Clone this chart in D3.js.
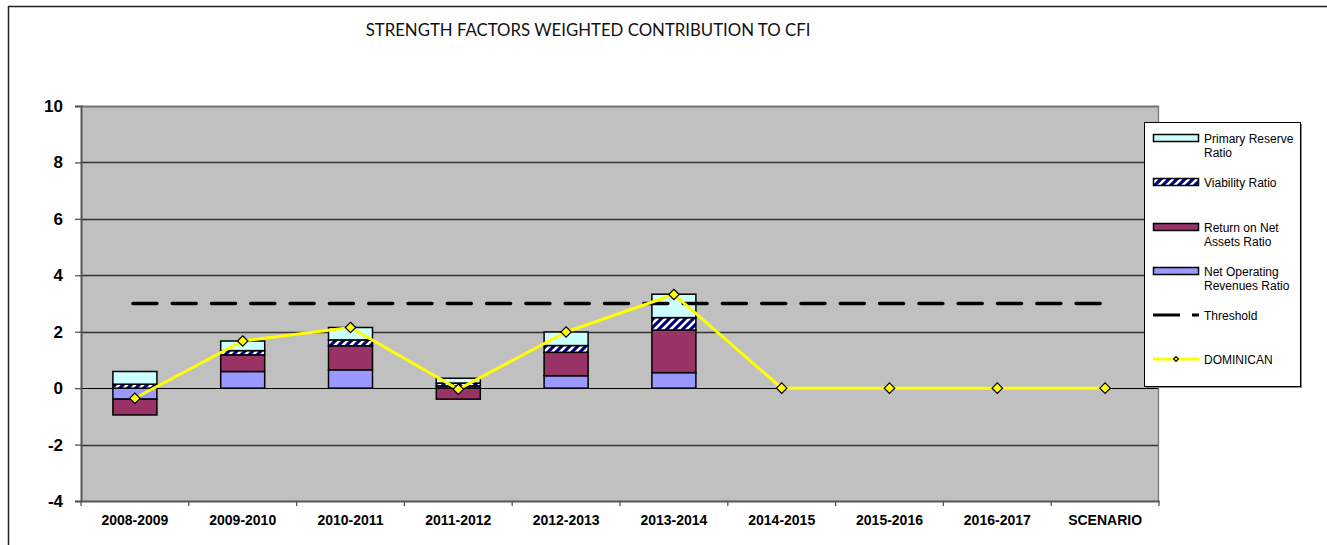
<!DOCTYPE html>
<html>
<head>
<meta charset="utf-8">
<script src="https://cdn.jsdelivr.net/npm/d3@7/dist/d3.min.js"></script>
<style>
  html, body { margin: 0; padding: 0; background: #fff; }
  svg { display: block; }
</style>
</head>
<body>
<svg id="chart" width="1327" height="545"></svg>
<script>
// Periods on the category axis
const categories = ["2008-2009", "2009-2010", "2010-2011", "2011-2012", "2012-2013",
                    "2013-2014", "2014-2015", "2015-2016", "2016-2017", "SCENARIO"];

// Weighted contributions of each strength factor (stacked)
const netOperating  = [-0.39, 0.59, 0.65, 0.08, 0.44, 0.55, 0, 0, 0, 0];
const returnOnNet   = [-0.56, 0.59, 0.85, -0.39, 0.83, 1.51, 0, 0, 0, 0];
const viability     = [0.14, 0.15, 0.21, 0.10, 0.24, 0.44, 0, 0, 0, 0];
const primaryRes    = [0.45, 0.34, 0.44, 0.17, 0.48, 0.83, 0, 0, 0, 0];

// Composite index line and threshold
const dominican     = [-0.36, 1.67, 2.15, -0.04, 1.99, 3.32, 0, 0, 0, 0];
const threshold     = 3;

const yTicks = [-4, -2, 0, 2, 4, 6, 8, 10];

const svg = d3.select("#chart");
const W = 1327, H = 545;
const plot = { left: 81, right: 1159, top: 106, bottom: 501 };

// Hatch pattern for the viability series
const defs = svg.append("defs");
const pat = defs.append("pattern")
  .attr("id", "hatch").attr("patternUnits", "userSpaceOnUse")
  .attr("width", 8).attr("height", 8);
pat.append("rect").attr("width", 8).attr("height", 8).attr("fill", "#000080");
pat.append("path").attr("d", "M0,8 L8,0").attr("stroke", "#fff").attr("stroke-width", 2.6);
pat.append("path").attr("d", "M-2,2 L2,-2 M6,10 L10,6").attr("stroke", "#fff").attr("stroke-width", 2.6);

// Outer frame
svg.append("line").attr("x1", 8).attr("y1", 6.5).attr("x2", W).attr("y2", 6.5)
  .attr("stroke", "#222").attr("stroke-width", 1.5);
svg.append("line").attr("x1", 8.5).attr("y1", 6).attr("x2", 8.5).attr("y2", H)
  .attr("stroke", "#222").attr("stroke-width", 1.5);

// Title
svg.append("text").attr("x", 588).attr("y", 36).attr("text-anchor", "middle")
  .attr("font-family", "Lato, 'Open Sans', sans-serif").attr("font-size", 16.8)
  .attr("fill", "#111").text("STRENGTH FACTORS WEIGHTED CONTRIBUTION TO CFI");

const x = d3.scaleBand().domain(categories).range([plot.left, plot.right]).padding(0);
const y = d3.scaleLinear().domain([-4, 10]).range([plot.bottom, plot.top]);
const cx = c => x(c) + x.bandwidth() / 2;

// Plot background
svg.append("rect").attr("x", plot.left).attr("y", plot.top)
  .attr("width", plot.right - plot.left).attr("height", plot.bottom - plot.top)
  .attr("fill", "#c0c0c0");

// Gridlines
svg.append("g").selectAll("line").data(yTicks.filter(d => d !== -4)).join("line")
  .attr("x1", plot.left).attr("x2", plot.right)
  .attr("y1", d => Math.round(y(d)) + 0.5).attr("y2", d => Math.round(y(d)) + 0.5)
  .attr("stroke", d => d === 0 ? "#000" : "#333").attr("stroke-width", d => d === 0 ? 1 : 1.3);

// Plot edge (top and right)
svg.append("path")
  .attr("d", `M${plot.left},${plot.top + 0.5} H${plot.right - 0.5} V${plot.bottom}`)
  .attr("fill", "none").attr("stroke", "#777").attr("stroke-width", 1.3);

// Stacked bars: positives stack upward, negatives downward
const seriesDefs = [
  { name: "Net Operating Revenues Ratio", values: netOperating, fill: "#9999ff" },
  { name: "Return on Net Assets Ratio",   values: returnOnNet,  fill: "#993366" },
  { name: "Viability Ratio",              values: viability,    fill: "url(#hatch)" },
  { name: "Primary Reserve Ratio",        values: primaryRes,   fill: "#ccffff" }
];
const barW = 44;
const segments = [];
categories.forEach((c, i) => {
  let pos = 0, neg = 0;
  seriesDefs.forEach(s => {
    const v = s.values[i];
    if (v === 0) return;
    let y0, y1;
    if (v > 0) { y0 = pos; y1 = pos + v; pos = y1; }
    else { y0 = neg; y1 = neg + v; neg = y1; }
    segments.push({ c, y0, y1, fill: s.fill });
  });
});
svg.append("g").selectAll("rect").data(segments).join("rect")
  .attr("x", d => cx(d.c) - barW / 2)
  .attr("width", barW)
  .attr("y", d => y(Math.max(d.y0, d.y1)))
  .attr("height", d => Math.abs(y(d.y0) - y(d.y1)))
  .attr("fill", d => d.fill).attr("stroke", "#000").attr("stroke-width", 1.5);

// Threshold
svg.append("line")
  .attr("x1", cx(categories[0]) - 2)
  .attr("x2", cx(categories[categories.length - 1]))
  .attr("y1", y(threshold)).attr("y2", y(threshold))
  .attr("stroke", "#000").attr("stroke-width", 3.5)
  .attr("stroke-dasharray", "24,15.3").attr("stroke-linecap", "round");

// Composite index line with diamond markers
const line = d3.line().x((d, i) => cx(categories[i])).y(d => y(d));
svg.append("path").datum(dominican).attr("d", line)
  .attr("fill", "none").attr("stroke", "#ffff00").attr("stroke-width", 3);
const diamond = d3.symbol().type(d3.symbolDiamond2).size(70);
svg.append("g").selectAll("path").data(dominican).join("path")
  .attr("transform", (d, i) => `translate(${cx(categories[i])},${y(d)})`)
  .attr("d", diamond).attr("fill", "#ffff00").attr("stroke", "#000").attr("stroke-width", 1.2);

// Y axis
const yAxis = svg.append("g").attr("transform", `translate(${plot.left},0)`)
  .call(d3.axisLeft(y).tickValues(yTicks).tickSize(6).tickPadding(12).tickFormat(d => String(d)));
yAxis.select(".domain").attr("stroke", "#555").attr("stroke-width", 2);
yAxis.selectAll(".tick line").attr("stroke", "#555").attr("stroke-width", 1.3);
yAxis.selectAll("text").attr("font-family", "'Liberation Sans', Arial, sans-serif")
  .attr("font-weight", "bold").attr("font-size", 17).attr("fill", "#000");

// X axis
const xAxis = svg.append("g").attr("transform", `translate(0,${plot.bottom})`)
  .call(d3.axisBottom(x).tickSize(0).tickPadding(14));
xAxis.select(".domain").attr("stroke", "#555").attr("stroke-width", 2);
xAxis.selectAll("text").attr("font-family", "'Liberation Sans', Arial, sans-serif")
  .attr("font-weight", "bold").attr("font-size", 14).attr("fill", "#000");
svg.append("g").selectAll("line").data(categories.concat(["end"])).join("line")
  .attr("x1", (d, i) => plot.left + i * x.bandwidth())
  .attr("x2", (d, i) => plot.left + i * x.bandwidth())
  .attr("y1", plot.bottom).attr("y2", plot.bottom + 5)
  .attr("stroke", "#555").attr("stroke-width", 1.3);

// Legend
const lg = svg.append("g");
lg.append("rect").attr("x", 1146).attr("y", 124).attr("width", 156).attr("height", 264).attr("fill", "#888");
lg.append("rect").attr("x", 1144.5).attr("y", 122.5).attr("width", 156).attr("height", 264)
  .attr("fill", "#fff").attr("stroke", "#000").attr("stroke-width", 1);

const legendItems = [
  { label: ["Primary Reserve", "Ratio"], y: 138, type: "box", fill: "#ccffff" },
  { label: ["Viability Ratio"], y: 182, type: "box", fill: "url(#hatch)" },
  { label: ["Return on Net", "Assets Ratio"], y: 227, type: "box", fill: "#993366" },
  { label: ["Net Operating", "Revenues Ratio"], y: 271, type: "box", fill: "#9999ff" },
  { label: ["Threshold"], y: 315, type: "dash" },
  { label: ["DOMINICAN"], y: 359, type: "line" }
];
legendItems.forEach(it => {
  if (it.type === "box") {
    lg.append("rect").attr("x", 1153.5).attr("y", it.y - 3.5).attr("width", 45).attr("height", 7)
      .attr("fill", it.fill).attr("stroke", "#000").attr("stroke-width", 1.5);
  } else if (it.type === "dash") {
    lg.append("line").attr("x1", 1153).attr("x2", 1180).attr("y1", it.y).attr("y2", it.y)
      .attr("stroke", "#000").attr("stroke-width", 3);
    lg.append("line").attr("x1", 1192).attr("x2", 1199).attr("y1", it.y).attr("y2", it.y)
      .attr("stroke", "#000").attr("stroke-width", 3);
  } else {
    lg.append("line").attr("x1", 1153).attr("x2", 1199).attr("y1", it.y).attr("y2", it.y)
      .attr("stroke", "#ffff00").attr("stroke-width", 3);
    lg.append("path").attr("transform", `translate(1176,${it.y})`)
      .attr("d", d3.symbol().type(d3.symbolDiamond2).size(14))
      .attr("fill", "#ffff00").attr("stroke", "#000").attr("stroke-width", 1.2);
  }
  const t = lg.append("text")
    .attr("font-family", "'Liberation Sans', Arial, sans-serif").attr("font-size", 12).attr("fill", "#000");
  it.label.forEach((s, k) => {
    t.append("tspan").attr("x", 1204).attr("y", it.y + 4.5 + k * 14).text(s);
  });
});
</script>
</body>
</html>
